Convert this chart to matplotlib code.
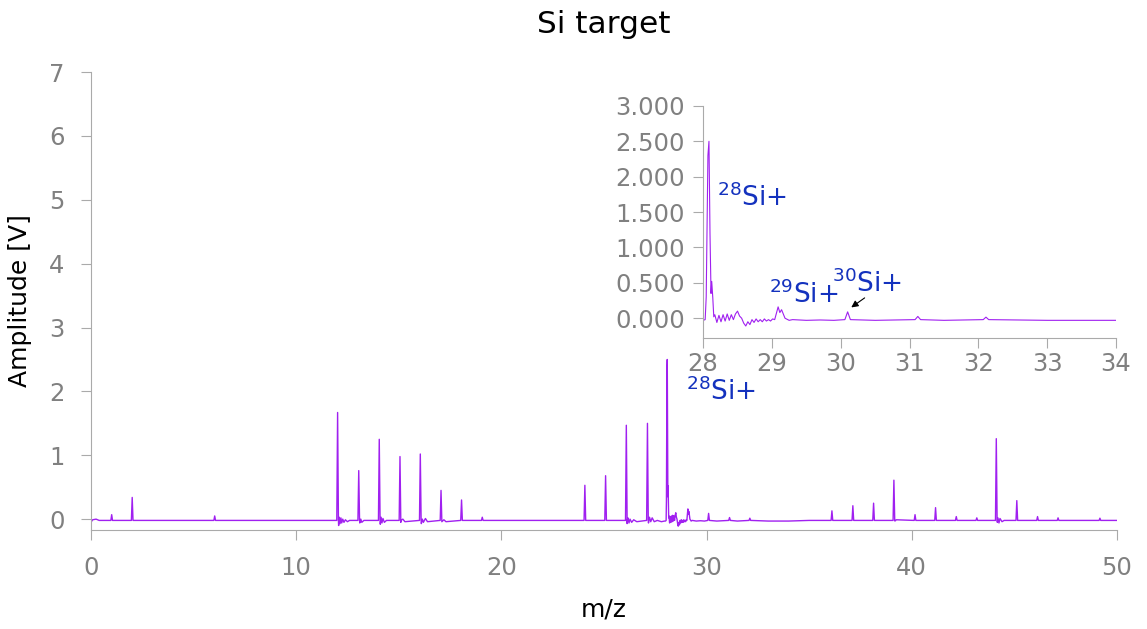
import numpy as np
import pandas as pd
import matplotlib.pyplot as plt

# isolated peaks: centre m/z and height [V]
peak_mz = [1.01, 2.01, 6.03, 12.02, 13.05, 14.05, 15.06, 16.05, 17.06, 18.06, 19.07,
           24.07, 25.08, 26.09, 27.12, 30.10, 31.12, 32.11,
           36.11, 37.13, 38.14, 39.13, 40.16, 41.16, 42.17, 43.17,
           44.12, 45.12, 46.13, 47.13, 49.17]
peak_amp = [0.07, 0.34, 0.05, 1.67, 0.76, 1.25, 0.98, 1.02, 0.45, 0.30, 0.03,
            0.53, 0.68, 1.47, 1.50, 0.09, 0.025, 0.015,
            0.13, 0.21, 0.25, 0.61, 0.07, 0.18, 0.04, 0.02,
            1.26, 0.29, 0.04, 0.02, 0.015]

# Si cluster 28 - 29.3, read point by point
si_mz = [28.00, 28.03, 28.045, 28.07, 28.085, 28.10, 28.115, 28.125, 28.14, 28.155,
         28.17, 28.20, 28.23, 28.26, 28.29, 28.32, 28.35, 28.38, 28.41, 28.44, 28.47,
         28.50, 28.53, 28.56, 28.59, 28.62, 28.65, 28.68, 28.71, 28.74, 28.77, 28.80,
         28.83, 28.86, 28.89, 28.92, 28.95, 28.98, 29.01, 29.04, 29.09, 29.115, 29.14,
         29.19, 29.25, 29.30]
si_amp = [-0.03, -0.02, 0.30, 2.30, 2.50, 1.20, 0.35, 0.52, 0.30, 0.02,
          0.05, -0.06, 0.04, -0.05, 0.05, -0.04, 0.06, -0.03, 0.05, -0.02, 0.06,
          0.10, 0.03, 0.00, -0.07, -0.11, -0.05, -0.09, -0.02, -0.06, -0.01, -0.05,
          -0.02, -0.05, -0.01, -0.04, -0.02, -0.04, -0.01, -0.02, 0.16, 0.08, 0.12,
          0.00, -0.03, -0.02]

# baseline and ringing after the large peaks
noise_mz = [0.00, 0.08, 0.25, 0.40, 11.90,
            12.07, 12.10, 12.14, 12.18, 12.22, 12.27, 12.33, 12.40, 12.50, 12.60,
            13.10, 13.15, 13.20, 13.30,
            14.10, 14.14, 14.18, 14.23, 14.30, 14.40,
            15.10, 15.20, 15.30, 16.10, 16.15, 16.20, 16.30, 16.40,
            17.10, 17.20, 17.30,
            26.13, 26.17, 26.22, 26.27, 26.35, 26.45, 26.60,
            27.17, 27.22, 27.28, 27.35, 27.45, 27.60, 27.80, 27.95,
            29.50, 29.70, 29.90, 30.50, 31.50, 33.00, 34.00, 35.00,
            39.18, 39.25, 44.17, 44.20, 44.25, 44.30, 44.40, 44.50, 50.00]
noise_amp = [-0.05, -0.01, 0.00, -0.02, -0.02,
             -0.10, 0.03, -0.07, 0.02, -0.06, 0.00, -0.05, -0.01, -0.04, -0.02,
             -0.06, 0.00, -0.05, -0.02,
             -0.08, 0.03, -0.06, 0.01, -0.05, -0.02,
             -0.05, 0.00, -0.04, -0.07, 0.00, -0.05, 0.01, -0.04,
             -0.04, -0.01, -0.04,
             -0.07, 0.02, -0.06, 0.00, -0.05, -0.01, -0.04,
             -0.06, 0.03, -0.04, 0.02, -0.04, -0.02, -0.04, -0.03,
             -0.03, -0.025, -0.03, -0.03, -0.03, -0.03, -0.03, -0.02,
             -0.03, -0.01, -0.05, 0.02, -0.06, 0.01, -0.04, -0.02, -0.02]

base = -0.02
hw = 0.04

xs = list(si_mz) + list(noise_mz)
ys = list(si_amp) + list(noise_amp)
for m, a in zip(peak_mz, peak_amp):
    xs += [m - hw, m, m + hw]
    ys += [base, a, base]
df = pd.DataFrame({"mz": xs, "amp": ys}).sort_values("mz", kind="stable")

line_col = "#a020f0"
txt_col = "#1432be"
grey = "#808080"
spine_col = "#aaaaaa"
fs_tick = 17.5
fs_note = 19

fig = plt.figure(figsize=(11.47, 6.29), dpi=100)
ax = fig.add_axes([0.0793, 0.1574, 0.8945, 0.728])
ax.plot(df["mz"], df["amp"], color=line_col, lw=1.0)
ax.set_xlim(0, 50)
ax.set_ylim(-0.17, 7)
ax.set_xticks(range(0, 51, 10))
ax.set_yticks(range(0, 8))
ax.set_title("Si target", fontsize=22.5, pad=28)
ax.set_xlabel("m/z", fontsize=18, labelpad=12)
ax.set_ylabel("Amplitude [V]", fontsize=18, labelpad=12)
ax.text(29.0, 1.86, "$^{28}$Si+", color=txt_col, fontsize=fs_note, va="baseline")

ins = fig.add_axes([0.613, 0.4626, 0.360, 0.369])
ins.plot(df["mz"], df["amp"], color=line_col, lw=0.8)
ins.set_xlim(28, 34)
ins.set_ylim(-0.28, 3.0)
ins.set_xticks(range(28, 35))
ins.set_yticks(np.arange(0, 3.01, 0.5))
ins.yaxis.set_major_formatter(plt.FormatStrFormatter("%.3f"))
ins.text(28.2, 1.58, "$^{28}$Si+", color=txt_col, fontsize=fs_note, va="baseline")
ins.text(28.96, 0.21, "$^{29}$Si+", color=txt_col, fontsize=fs_note, va="baseline")
ins.text(29.87, 0.37, "$^{30}$Si+", color=txt_col, fontsize=fs_note, va="baseline")
ins.annotate("", xy=(30.12, 0.13), xytext=(30.38, 0.31),
             arrowprops=dict(arrowstyle="-|>", color="black", lw=0.8, mutation_scale=10))

for a in (ax, ins):
    a.spines["top"].set_visible(False)
    a.spines["right"].set_visible(False)
    a.spines["left"].set_color(spine_col)
    a.spines["bottom"].set_color(spine_col)
    a.tick_params(colors=spine_col, labelcolor=grey, labelsize=fs_tick, length=7)
ax.tick_params(axis="x", pad=12)
ax.tick_params(axis="y", pad=12)
ins.tick_params(axis="x", pad=3)
ins.tick_params(axis="y", pad=6)

fig.savefig("out.png", dpi=100)
